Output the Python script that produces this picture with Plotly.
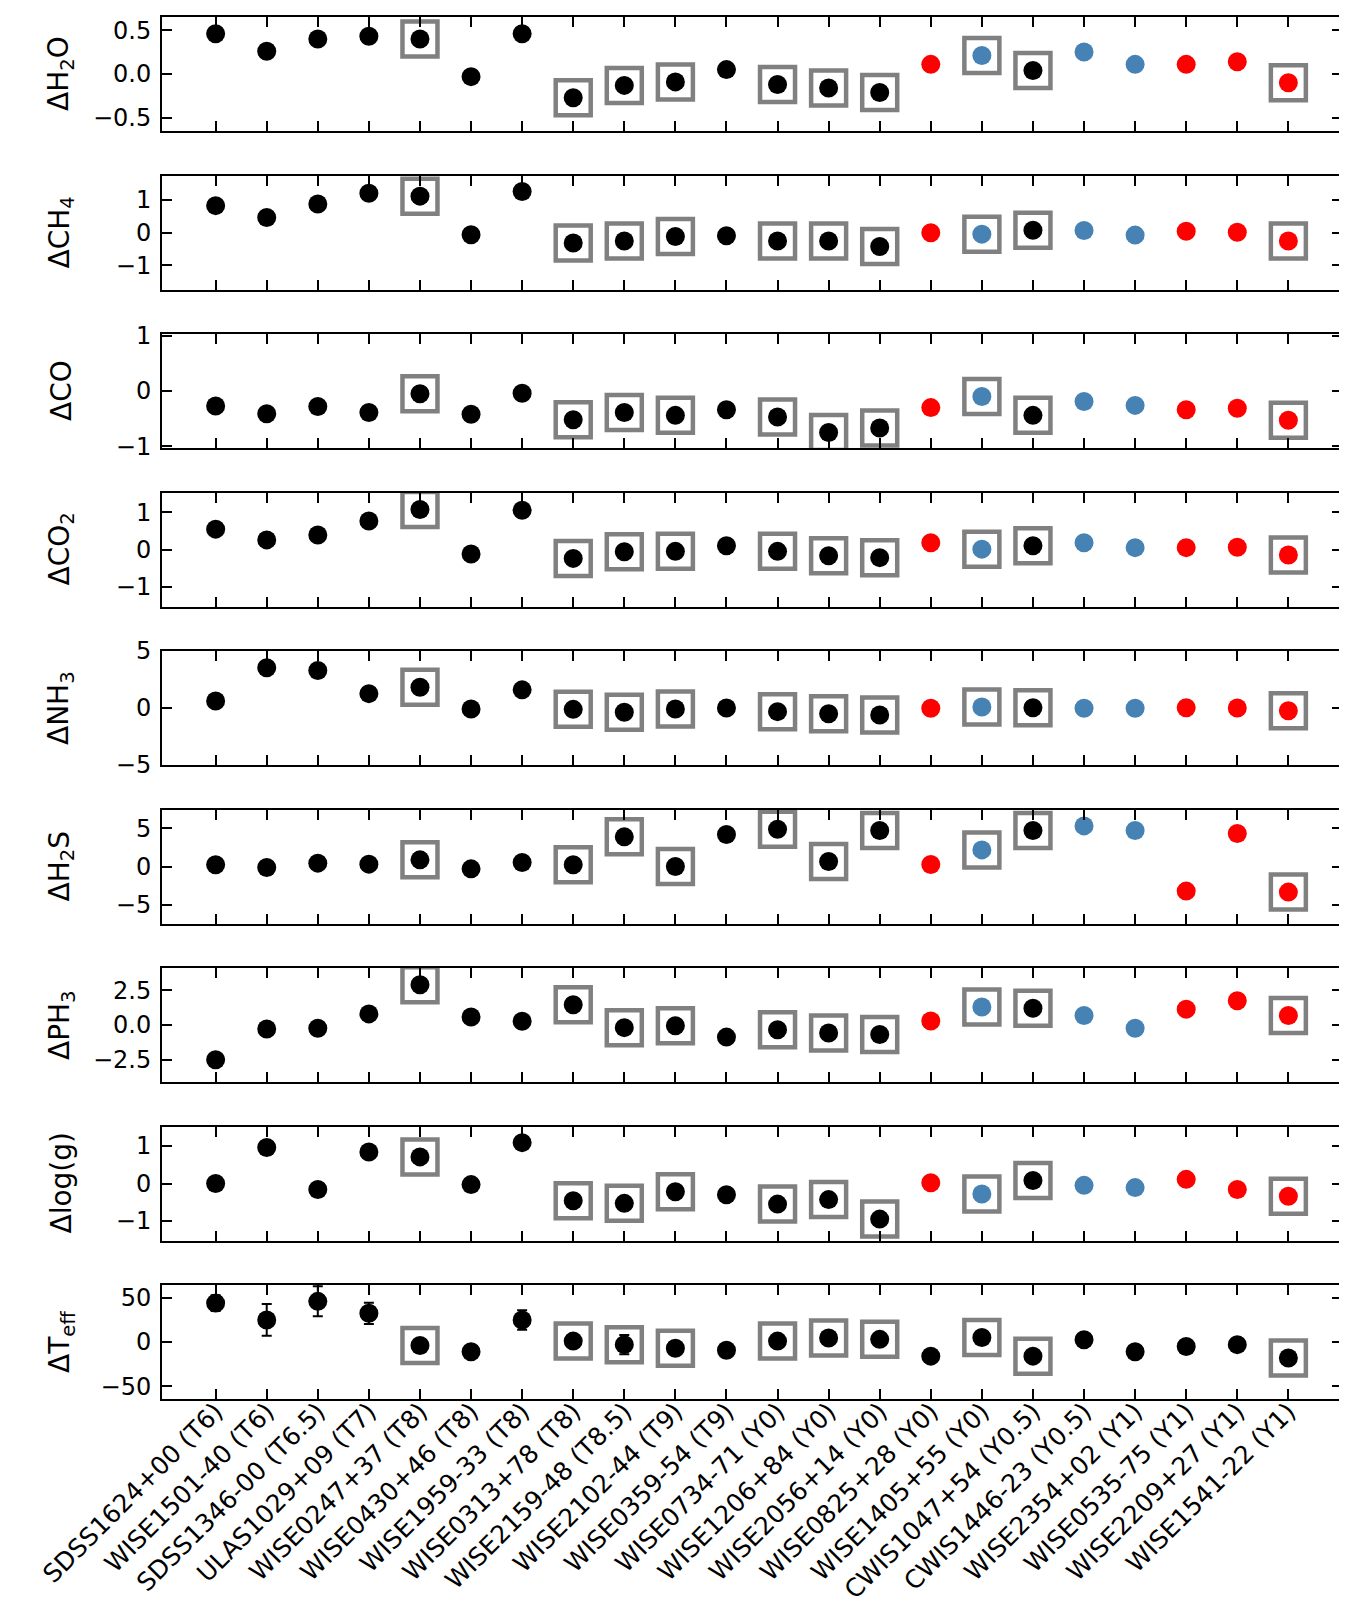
import plotly.graph_objects as go
from plotly.subplots import make_subplots

names = ["SDSS1624+00 (T6)", "WISE1501-40 (T6)", "SDSS1346-00 (T6.5)", "ULAS1029+09 (T7)",
         "WISE0247+37 (T8)", "WISE0430+46 (T8)", "WISE1959-33 (T8)", "WISE0313+78 (T8)",
         "WISE2159-48 (T8.5)", "WISE2102-44 (T9)", "WISE0359-54 (T9)", "WISE0734-71 (Y0)",
         "WISE1206+84 (Y0)", "WISE2056+14 (Y0)", "WISE0825+28 (Y0)", "WISE1405+55 (Y0)",
         "CWIS1047+54 (Y0.5)", "CWIS1446-23 (Y0.5)", "WISE2354+02 (Y1)", "WISE0535-75 (Y1)",
         "WISE2209+27 (Y1)", "WISE1541-22 (Y1)"]

# colour group of each object: k = black, r = red, b = steelblue
groups = ["k"] * 14 + ["r", "b", "k", "b", "b", "r", "r", "r"]
# objects marked with a grey box
boxed = [4, 7, 8, 9, 11, 12, 13, 15, 16, 21]

d_h2o = [0.46, 0.26, 0.40, 0.43, 0.40, -0.03, 0.46, -0.27, -0.13, -0.09, 0.05, -0.12,
         -0.16, -0.21, 0.11, 0.21, 0.04, 0.25, 0.11, 0.11, 0.14, -0.10]
d_ch4 = [0.82, 0.46, 0.87, 1.20, 1.11, -0.07, 1.25, -0.32, -0.26, -0.12, -0.10, -0.26,
         -0.26, -0.43, -0.01, -0.05, 0.07, 0.06, -0.08, 0.04, 0.01, -0.26]
d_co = [-0.27, -0.41, -0.28, -0.39, -0.05, -0.42, -0.04, -0.52, -0.39, -0.44, -0.34, -0.47,
        -0.75, -0.67, -0.30, -0.10, -0.44, -0.19, -0.26, -0.34, -0.31, -0.53]
d_co2 = [0.55, 0.26, 0.39, 0.77, 1.08, -0.12, 1.06, -0.24, -0.06, -0.05, 0.10, -0.05,
         -0.17, -0.22, 0.18, 0.01, 0.10, 0.18, 0.05, 0.05, 0.06, -0.15]
d_nh3 = [0.62, 3.53, 3.29, 1.26, 1.82, -0.09, 1.59, -0.12, -0.38, -0.09, 0.0, -0.32,
         -0.50, -0.62, -0.03, 0.09, 0.03, -0.03, -0.03, 0.03, 0.0, -0.24]
d_h2s = [0.22, -0.13, 0.44, 0.31, 0.87, -0.31, 0.52, 0.22, 3.89, 0.0, 4.19, 4.89,
         0.66, 4.72, 0.26, 2.18, 4.72, 5.33, 4.72, -3.23, 4.32, -3.36]
d_ph3 = [-2.50, -0.29, -0.24, 0.80, 2.89, 0.58, 0.27, 1.46, -0.19, -0.05, -0.87, -0.34,
         -0.58, -0.68, 0.29, 1.29, 1.21, 0.68, -0.24, 1.14, 1.75, 0.68]
d_logg = [0.0, 0.96, -0.16, 0.84, 0.71, -0.03, 1.09, -0.46, -0.53, -0.22, -0.30, -0.55,
          -0.43, -0.95, 0.02, -0.28, 0.08, -0.05, -0.11, 0.11, -0.16, -0.34]
d_teff = [44, 25, 46, 32.5, -4, -11, 25, 1, -3, -7, -9.4, 1, 4.5, 3, -16, 5, -16, 2.6,
          -11, -5, -3, -18]
d_teff_err = [9, 18, 17, 12, None, None, 11, None, 11, None, None, None, None, None, None,
              None, None, None, None, None, None, None]

panel_labels = ["ΔH<sub>2</sub>O", "ΔCH<sub>4</sub>", "ΔCO", "ΔCO<sub>2</sub>",
                "ΔNH<sub>3</sub>", "ΔH<sub>2</sub>S", "ΔPH<sub>3</sub>", "Δlog(g)",
                "ΔT<sub>eff</sub>"]
panel_values = [d_h2o, d_ch4, d_co, d_co2, d_nh3, d_h2s, d_ph3, d_logg, d_teff]
panel_limits = [0.65, 1.74, 1.03, 1.54, 5.0, 7.48, 4.1, 1.52, 64.5]
panel_ticks = [[0.5, 0.0, -0.5], [1, 0, -1], [1, 0, -1], [1, 0, -1], [5, 0, -5],
               [5, 0, -5], [2.5, 0.0, -2.5], [1, 0, -1], [50, 0, -50]]
panel_ticktext = [["0.5", "0.0", "\u22120.5"], ["1", "0", "\u22121"], ["1", "0", "\u22121"],
                  ["1", "0", "\u22121"], ["5", "0", "\u22125"], ["5", "0", "\u22125"],
                  ["2.5", "0.0", "\u22122.5"], ["1", "0", "\u22121"],
                  ["50", "0", "\u221250"]]

color_map = {"k": "black", "r": "#ff0000", "b": "#4682b4"}
FONT = "DejaVu Sans"

W, H = 1347, 1608
L, R, T, B = 154, 13, 9, 217
plot_h = H - T - B
n = 9
fig = make_subplots(rows=n, cols=1, shared_xaxes=False)

x_idx = list(range(len(names)))

for i in range(n):
    row = i + 1
    vals = panel_values[i]
    if i == n - 1:
        cols = ["black"] * len(names)
        err = dict(type="data", array=[e if e is not None else float("nan") for e in d_teff_err],
                   visible=True, color="black", thickness=2, width=5)
    else:
        cols = [color_map[g] for g in groups]
        err = None
    fig.add_hline(y=0, line=dict(color="black", width=2.5, dash="9px,5px"), row=row, col=1)
    fig.add_trace(go.Scatter(x=x_idx, y=vals, mode="markers",
                             marker=dict(size=19, color=cols, line=dict(width=0)),
                             error_y=err, showlegend=False), row=row, col=1)
    fig.add_trace(go.Scatter(x=[x_idx[j] for j in boxed], y=[vals[j] for j in boxed],
                             mode="markers",
                             marker=dict(symbol="square-open", size=35, color="#808080",
                                         line=dict(width=4.5, color="#808080")),
                             showlegend=False), row=row, col=1)

    top_px = T + 158.5 * i
    bot_px = top_px + 114
    dom = [(H - B - bot_px) / plot_h, (H - B - top_px) / plot_h]
    yname = "yaxis" if i == 0 else f"yaxis{row}"
    xname = "xaxis" if i == 0 else f"xaxis{row}"
    lim = panel_limits[i]
    fig.layout[yname].update(domain=dom, range=[-lim, lim], tickvals=panel_ticks[i],
                             ticktext=panel_ticktext[i], ticks="inside", ticklen=10,
                             tickwidth=2, tickcolor="black", showline=True, linewidth=2,
                             linecolor="black", mirror="ticks", showgrid=False,
                             zeroline=False, tickfont=dict(family=FONT, size=24, color="black"),
                             ticklabelstandoff=4)
    xa = dict(range=[-1.05, 22.05], tickvals=x_idx,
              showticklabels=(i == n - 1), ticks="inside", ticklen=10,
              tickwidth=2, tickcolor="black", showline=True, linewidth=2,
              linecolor="black", mirror="ticks", showgrid=False,
              zeroline=False, tickangle=-45,
              tickfont=dict(family=FONT, size=25, color="black"))
    if i == n - 1:
        xa["ticktext"] = names
        xa["ticklabelstandoff"] = -14
    fig.layout[xname].update(**xa)
    yref = "y domain" if i == 0 else f"y{row} domain"
    fig.add_annotation(text=panel_labels[i], xref="paper", yref=yref,
                       x=(53 - L) / (W - L - R), y=0.5, textangle=-90, showarrow=False,
                       xanchor="center", yanchor="middle",
                       font=dict(family=FONT, size=28, color="black"))

fig.update_layout(width=W, height=H, margin=dict(l=L, r=R, t=T, b=B, autoexpand=False),
                  plot_bgcolor="white", paper_bgcolor="white",
                  font=dict(family=FONT, color="black"))

fig.write_html("out.html")
